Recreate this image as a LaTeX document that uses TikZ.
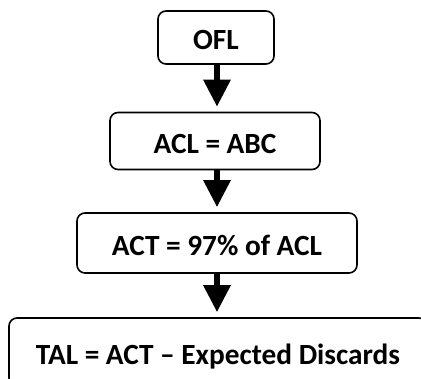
\documentclass[tikz,border=0pt]{standalone}
\usepackage{fontspec}
\setmainfont{Carlito}
\usetikzlibrary{arrows.meta}
\tikzset{
  box/.style={draw, line width=1.6pt, rounded corners=8pt, inner sep=0pt,
    font=\bfseries\fontsize{29.3}{34}\selectfont, text height=25pt, text depth=0pt, anchor=center},
  flow/.style={line width=6pt, -{Triangle[width=26pt,length=27pt]}, shorten >=5pt}
}
\begin{document}
\begin{tikzpicture}[x=1pt,y=-1pt]
\useasboundingbox (0,0) rectangle (421,379);
\node[box, minimum width=116pt, minimum height=53pt] (ofl) at (216,37.5) {OFL};
\node[box, minimum width=210pt, minimum height=57pt] (acl) at (215,141) {ACL = ABC};
\node[box, minimum width=280pt, minimum height=60pt] (act) at (217,243) {ACT = 97\% of ACL};
\node[box, minimum width=418pt, minimum height=68pt] (tal) at (218,352) {TAL = ACT – Expected Discards};
\draw[flow] (ofl.south -| 217,0) -- (acl.north -| 217,0);
\draw[flow] (acl.south -| 217,0) -- (act.north -| 217,0);
\draw[flow] (act.south -| 217,0) -- (tal.north -| 217,0);
\end{tikzpicture}
\end{document}
